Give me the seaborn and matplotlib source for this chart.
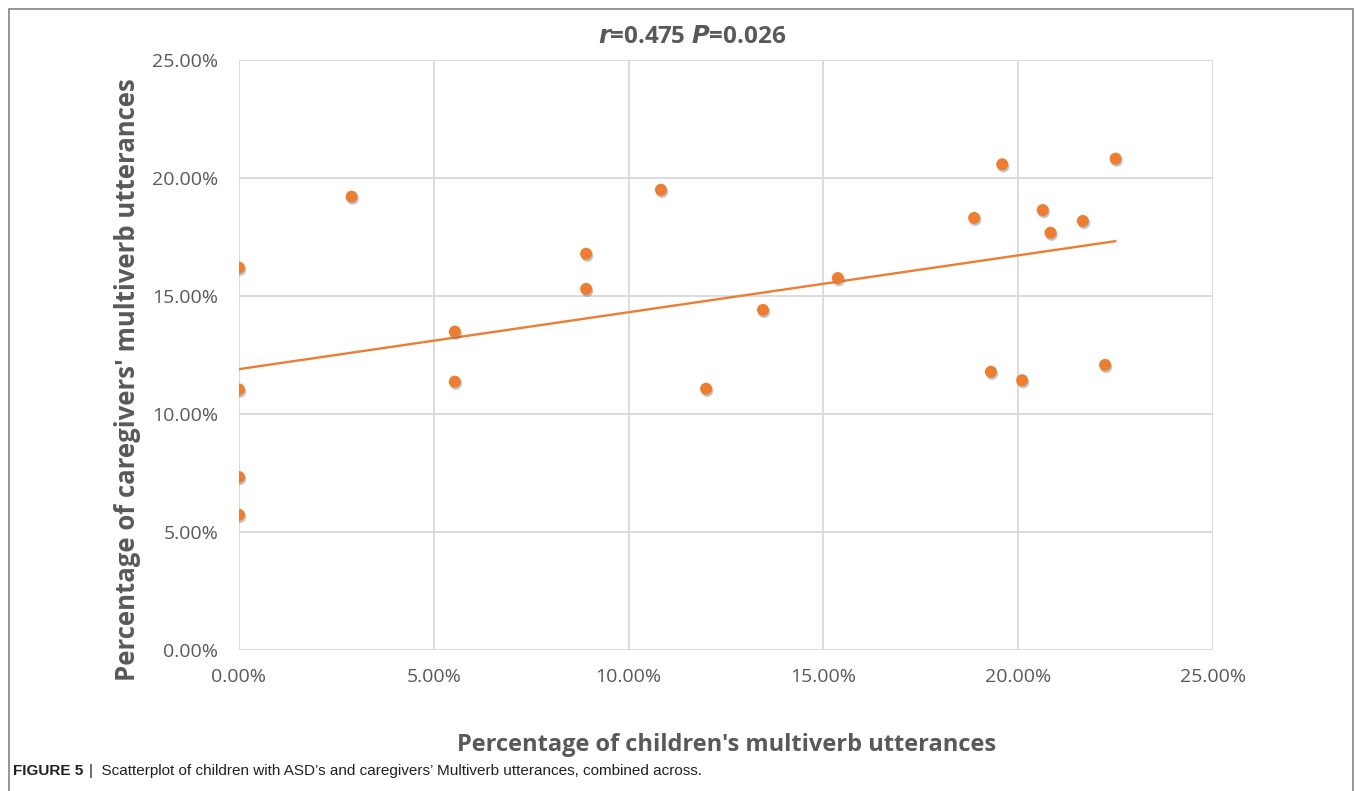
import matplotlib
matplotlib.use("Agg")
import matplotlib.pyplot as plt
import matplotlib.patheffects as pe
from matplotlib.ticker import FuncFormatter, MultipleLocator
import seaborn as sns
import pandas as pd

# Percentage of multiverb utterances per dyad
children_pct = [0.00, 0.00, 0.00, 0.00, 2.89, 5.54, 5.54, 8.91, 8.91, 10.83, 11.99,
                13.45, 15.37, 18.87, 19.30, 19.59, 20.10, 20.63, 20.83, 21.66, 22.23, 22.50]
caregivers_pct = [16.20, 11.04, 7.33, 5.73, 19.21, 13.49, 11.37, 16.79, 15.30, 19.50, 11.07,
                  14.41, 15.76, 18.31, 11.79, 20.58, 11.43, 18.64, 17.68, 18.18, 12.08, 20.82]

title_r = "0.475"
title_p = "0.026"
x_label = "Percentage of children's multiverb utterances"
y_label = "Percentage of caregivers' multiverb utterances"
caption_head = "FIGURE 5"
caption_body = "Scatterplot of children with ASD\u2019s and caregivers\u2019 Multiverb utterances, combined across."

df = pd.DataFrame({"child": children_pct, "caregiver": caregivers_pct})

sns.set_theme(style="white")
plt.rcParams["font.family"] = ["Open Sans", "DejaVu Sans"]

ORANGE = "#ED7D31"
GRID = "#d9d9d9"
TEXT = "#595959"

fig = plt.figure(figsize=(13.55, 7.91), dpi=100)
ax = fig.add_axes([239 / 1355, 1 - 650 / 791, (1213 - 239) / 1355, (650 - 60) / 791])

sns.regplot(
    data=df, x="child", y="caregiver", ax=ax, ci=None,
    scatter_kws=dict(s=75, color=ORANGE, edgecolor="none", alpha=1, zorder=4,
                     path_effects=[pe.SimplePatchShadow(offset=(0.8, -1.5), shadow_rgbFace="#555555",
                                                        alpha=0.35),
                                   pe.Normal()]),
    line_kws=dict(color=ORANGE, lw=1.7, zorder=3),
)

ax.set_xlim(0, 25)
ax.set_ylim(0, 25)
ax.xaxis.set_major_locator(MultipleLocator(5))
ax.yaxis.set_major_locator(MultipleLocator(5))
fmt = FuncFormatter(lambda v, _: f"{v:.2f}%")
ax.xaxis.set_major_formatter(fmt)
ax.yaxis.set_major_formatter(fmt)
ax.grid(True, color=GRID, lw=1.3, zorder=0)
ax.set_axisbelow(True)
for s in ax.spines.values():
    s.set_visible(False)
ax.tick_params(axis="both", length=0, labelsize=14, labelcolor=TEXT)
ax.tick_params(axis="x", pad=13)
ax.tick_params(axis="y", pad=15)
ax.set_xlabel("")
ax.set_ylabel("")

# Axis titles
fig.text(727 / 1355, 1 - 745 / 791, x_label, ha="center", va="center",
         fontsize=17, fontweight="bold", color=TEXT)
fig.text(128 / 1355, 1 - 380 / 791, y_label, ha="center", va="center", rotation=90,
         fontsize=18.5, fontweight="bold", color=TEXT)

# Chart title with italic statistic symbols
fig.text(692 / 1355, 1 - 37 / 791,
         r"$\mathbfit{r}$=" + title_r + r" $\mathbfit{P}$=" + title_p,
         ha="center", va="center", fontsize=17.5, fontweight="bold", color=TEXT)

# Frame around the chart area
frame = plt.Rectangle((9 / 1355, -0.05), (1353 - 9) / 1355, 1 - 9 / 791 + 0.05,
                      transform=fig.transFigure, fill=False, ec="#8c8c8c", lw=1.3)
fig.add_artist(frame)

# Figure caption
cap_font = ["Liberation Sans Narrow", "Liberation Sans", "DejaVu Sans"]
t = fig.text(13 / 1355, 1 - 771 / 791, caption_head, ha="left", va="center",
             fontsize=11, fontweight="bold", color="#231f20", family=cap_font)
fig.canvas.draw()
bb = t.get_window_extent()
t2 = fig.text((bb.x1 + 6) / 1355, 1 - 771 / 791, "|  " + caption_body, ha="left", va="center",
              fontsize=11, color="#231f20", family=cap_font)

fig.savefig("out.png", dpi=100, facecolor="white")
